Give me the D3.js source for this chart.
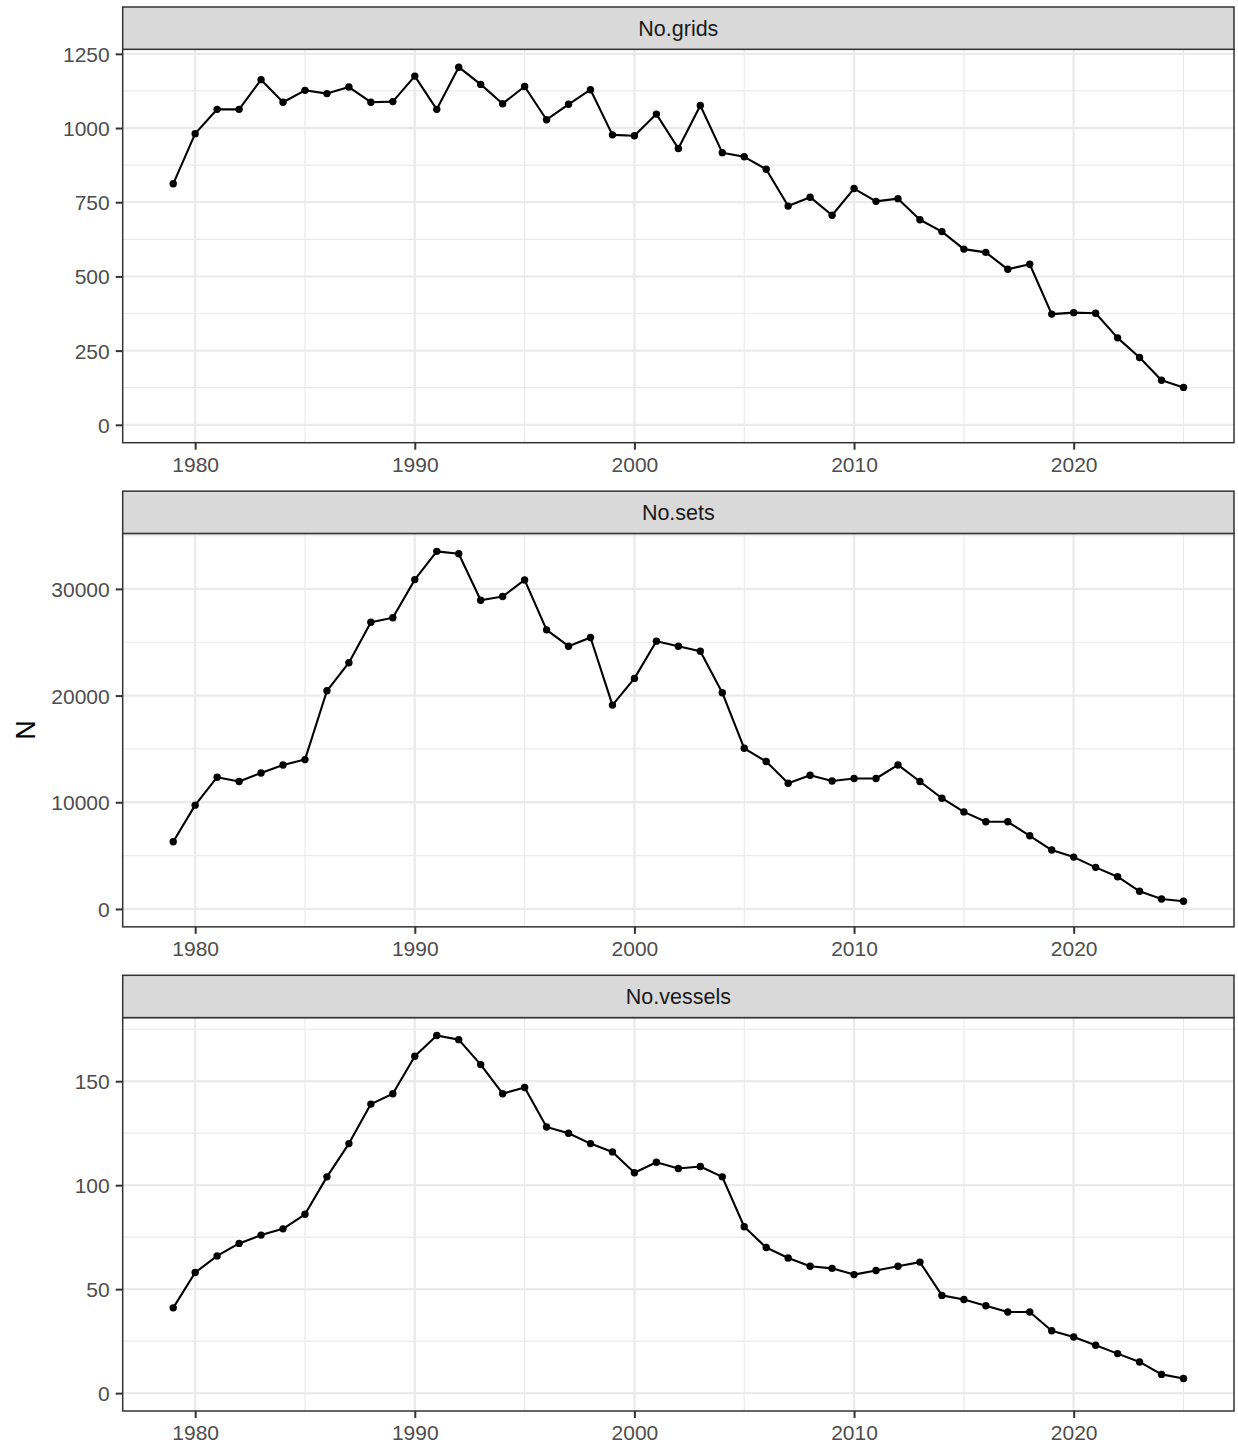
<!DOCTYPE html>
<html>
<head>
<meta charset="utf-8">
<script src="https://cdn.jsdelivr.net/npm/d3@7"></script>
<style>
  html, body { margin: 0; padding: 0; background: #fff; }
  svg text { font-family: "Liberation Sans", Arial, Helvetica, sans-serif; }
</style>
</head>
<body>
<svg id="chart"></svg>
<script>
// data
var years = [1979, 1980, 1981, 1982, 1983, 1984, 1985, 1986, 1987, 1988, 1989,
  1990, 1991, 1992, 1993, 1994, 1995, 1996, 1997, 1998, 1999,
  2000, 2001, 2002, 2003, 2004, 2005, 2006, 2007, 2008, 2009,
  2010, 2011, 2012, 2013, 2014, 2015, 2016, 2017, 2018, 2019,
  2020, 2021, 2022, 2023, 2024, 2025];

var grids = [812, 981, 1063, 1063, 1163, 1087, 1127, 1116, 1138, 1087, 1089,
  1175, 1063, 1205, 1147, 1082, 1140, 1028, 1080, 1129, 977,
  974, 1047, 931, 1076, 917, 903, 861, 737, 767, 706,
  796, 753, 762, 691, 651, 592, 581, 524, 541, 373,
  378, 376, 293, 227, 150, 126];

var sets = [6300, 9730, 12350, 11950, 12750, 13500, 14000, 20450, 23080, 26880, 27290,
  30870, 33520, 33300, 28930, 29280, 30840, 26160, 24630, 25440, 19110,
  21610, 25100, 24630, 24160, 20270, 15060, 13820, 11790, 12530, 12000,
  12230, 12230, 13500, 11950, 10380, 9100, 8170, 8170, 6860, 5520,
  4860, 3900, 3020, 1660, 940, 720];

var vessels = [41, 58, 66, 72, 76, 79, 86, 104, 120, 139, 144,
  162, 172, 170, 158, 144, 147, 128, 125, 120, 116,
  106, 111, 108, 109, 104, 80, 70, 65, 61, 60,
  57, 59, 61, 63, 47, 45, 42, 39, 39, 30,
  27, 23, 19, 15, 9, 7];

var facetNames = ["No.grids", "No.sets", "No.vessels"];
var yTicks = [
  [0, 250, 500, 750, 1000, 1250],
  [0, 10000, 20000, 30000],
  [0, 50, 100, 150]
];
var xTicks = [1980, 1990, 2000, 2010, 2020];
var yTitle = "N";

var facets = [grids, sets, vessels].map(function (vals, i) {
  return {
    name: facetNames[i],
    ticks: yTicks[i],
    rows: years.map(function (y, j) { return { year: y, value: vals[j] }; })
  };
});

var W = 1238, H = 1445;
var left = 122.7, right = 1234,
    top0 = 7, step = 484.15,
    stripH = 42.3, panelH = 393.4;

var svg = d3.select("#chart").attr("width", W).attr("height", H);

function expand(lo, hi) {
  var d = (hi - lo) * 0.05;
  return [lo - d, hi + d];
}

var x = d3.scaleLinear()
  .domain(expand(d3.min(years), d3.max(years)))
  .range([left, right]);

function minorOf(ticks, dom) {
  var s = ticks[1] - ticks[0], out = [];
  for (var v = ticks[0] - s / 2; v <= dom[1]; v += s) {
    if (v >= dom[0]) out.push(v);
  }
  return out;
}

var xMinor = minorOf(xTicks, x.domain());

facets.forEach(function (f, i) {
  var stripTop = top0 + i * step,
      pTop = stripTop + stripH,
      pBot = pTop + panelH;

  var y = d3.scaleLinear()
    .domain(expand(0, d3.max(f.rows, function (d) { return d.value; })))
    .range([pBot, pTop]);

  var g = svg.append("g");

  // panel background + grid
  g.append("rect")
    .attr("x", left).attr("y", pTop)
    .attr("width", right - left).attr("height", panelH)
    .attr("fill", "#fff");

  var yMinor = minorOf(f.ticks, y.domain());

  g.selectAll(".ymin").data(yMinor).enter().append("line")
    .attr("x1", left).attr("x2", right)
    .attr("y1", y).attr("y2", y)
    .attr("stroke", "#EBEBEB").attr("stroke-width", 1.2);
  g.selectAll(".xmin").data(xMinor).enter().append("line")
    .attr("x1", x).attr("x2", x)
    .attr("y1", pTop).attr("y2", pBot)
    .attr("stroke", "#EBEBEB").attr("stroke-width", 1.2);
  g.selectAll(".ymaj").data(f.ticks).enter().append("line")
    .attr("x1", left).attr("x2", right)
    .attr("y1", y).attr("y2", y)
    .attr("stroke", "#EBEBEB").attr("stroke-width", 2.3);
  g.selectAll(".xmaj").data(xTicks).enter().append("line")
    .attr("x1", x).attr("x2", x)
    .attr("y1", pTop).attr("y2", pBot)
    .attr("stroke", "#EBEBEB").attr("stroke-width", 2.3);

  // data
  var line = d3.line()
    .x(function (d) { return x(d.year); })
    .y(function (d) { return y(d.value); });

  g.append("path")
    .datum(f.rows)
    .attr("d", line)
    .attr("fill", "none")
    .attr("stroke", "#000")
    .attr("stroke-width", 2.1)
    .attr("stroke-linejoin", "round");

  g.selectAll(".dot").data(f.rows).enter().append("circle")
    .attr("cx", function (d) { return x(d.year); })
    .attr("cy", function (d) { return y(d.value); })
    .attr("r", 3.7)
    .attr("fill", "#000");

  // panel border
  g.append("rect")
    .attr("x", left).attr("y", pTop)
    .attr("width", right - left).attr("height", panelH)
    .attr("fill", "none")
    .attr("stroke", "#333").attr("stroke-width", 1.5);

  // strip
  g.append("rect")
    .attr("x", left).attr("y", stripTop)
    .attr("width", right - left).attr("height", stripH)
    .attr("fill", "#D9D9D9")
    .attr("stroke", "#333").attr("stroke-width", 1.5);
  g.append("text")
    .attr("x", (left + right) / 2)
    .attr("y", stripTop + stripH / 2)
    .attr("dy", "0.36em")
    .attr("text-anchor", "middle")
    .attr("fill", "#1A1A1A")
    .style("font-size", "21.5px")
    .text(f.name);

  // axes
  var yAxis = d3.axisLeft(y).tickValues(f.ticks).tickSize(7).tickPadding(6)
    .tickFormat(d3.format("d"));
  var xAxis = d3.axisBottom(x).tickValues(xTicks).tickSize(7).tickPadding(7)
    .tickFormat(d3.format("d"));

  var ya = g.append("g").attr("transform", "translate(" + left + ",0)").call(yAxis);
  var xa = g.append("g").attr("transform", "translate(0," + pBot + ")").call(xAxis);

  [ya, xa].forEach(function (a) {
    a.select(".domain").remove();
    a.selectAll(".tick line").attr("stroke", "#333").attr("stroke-width", 2);
    a.selectAll(".tick text")
      .attr("fill", "#4D4D4D")
      .style("font-size", "21px")
      .style("font-family", "'Liberation Sans', Arial, Helvetica, sans-serif");
  });
  ya.selectAll(".tick text").attr("dy", "0.36em");
});

svg.append("text")
  .attr("transform", "translate(25,730) rotate(-90)")
  .attr("dy", "0.36em")
  .attr("text-anchor", "middle")
  .attr("fill", "#000")
  .style("font-size", "27px")
  .text(yTitle);
</script>
</body>
</html>
